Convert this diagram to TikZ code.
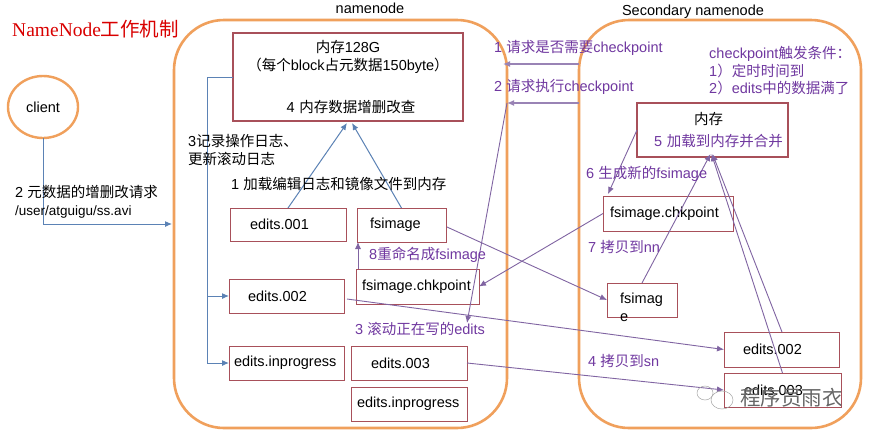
\documentclass[tikz,border=0pt]{standalone}
\usepackage{fontspec}
\setmainfont{Liberation Sans}
\newfontfamily\cjk{Noto Sans CJK SC}
\newfontfamily\serifl{Liberation Serif}
\newcommand{\zh}[1]{{\cjk #1}}
\usetikzlibrary{arrows.meta,calc,shapes.geometric}
\definecolor{orangeline}{HTML}{F0A05C}
\definecolor{boxred}{HTML}{A8505A}
\definecolor{bluel}{HTML}{5B82B5}
\definecolor{purpl}{HTML}{8064A2}
\definecolor{purpt}{HTML}{7038A0}
\tikzset{
 container/.style={draw=orangeline,line width=2.6pt,rounded corners=50pt,anchor=north west,inner sep=0pt,outer sep=0pt},
 bigbox/.style={draw=boxred,line width=2pt,anchor=north west,inner sep=0pt,outer sep=0pt,align=left},
 smallbox/.style={draw=boxred,line width=1pt,anchor=north west,inner sep=0pt,outer sep=0pt,align=left},
 txt/.style={anchor=west,inner sep=0pt,align=left,font=\fontsize{14.5}{17.5}\selectfont},
 ptxt/.style={txt,text=purpt},
 bluearrow/.style={draw=bluel,line width=1pt,-{Latex[length=7pt,width=6pt]}},
 blueline/.style={draw=bluel,line width=1pt},
 purplearrow/.style={draw=purpl,line width=.9pt,-{Latex[length=7pt,width=6pt]}},
 purplethick/.style={draw=purpl!80,line width=1.8pt,-{Latex[length=7pt,width=6pt]}},
}
\newcommand{\bx}[7]{\node[#1,minimum width=#4pt,text width=#4pt,minimum height=#5pt,font=\fontsize{14.5}{17.5}\selectfont] (#2) at (#3) {#6#7};}
\begin{document}
\begin{tikzpicture}[x=1pt,y=-1pt]
\useasboundingbox (0,0) rectangle (872,437);
\fill[white] (0,0) rectangle (872,437);
% titles
\node[anchor=center,inner sep=0pt,font=\fontsize{14.5}{15}\selectfont] (nnt) at (370,8.5) {namenode};
\fill[white] (330,13) rectangle (412,19);
\node[anchor=center,inner sep=0pt,font=\fontsize{14.5}{15}\selectfont] (snt) at (693,12) {Secondary namenode};
\node[anchor=west,inner sep=0pt,text=red!85!black,font=\fontsize{19.5}{22}\selectfont] (title) at (12,29) {\serifl NameNode\zh{工作机制}};
% containers
\node[container,minimum width=333pt,minimum height=408pt] (nn) at (174,20) {};
\node[container,minimum width=282pt,minimum height=408pt] (sn) at (579,20) {};
% client
\node[draw=orangeline,line width=2.4pt,ellipse,minimum width=70pt,minimum height=62pt,inner sep=0pt,outer sep=0pt,font=\fontsize{14.5}{17}\selectfont] (client) at (43,107) {client};
\coordinate (inport) at (172,224);
\coordinate (cornerc) at (client.south |- inport);
% boxes in namenode
\node[bigbox,minimum width=230pt,text width=230pt,minimum height=88pt,align=center,font=\fontsize{14.5}{18}\selectfont] (mem) at (233,33) {\zh{内存}128G\\\zh{（每个}block\zh{占元数据}150byte\zh{）}\\[24pt]\hspace*{6pt}4 \zh{内存数据增删改查}};
\bx{smallbox}{ea}{230,208}{116}{33}{\hspace*{20pt}}{edits.001}
\bx{smallbox}{fi}{357,208}{89}{34}{\hspace*{13pt}}{fsimage}
\bx{smallbox}{fc}{356,269}{123}{35}{\hspace*{6pt}}{fsimage.chkpoint}
\bx{smallbox}{eb}{229,279}{115}{34}{\hspace*{19pt}}{edits.002}
\bx{smallbox}{ei}{229,346}{115}{34}{\hspace*{5pt}}{edits.inprogress}
\bx{smallbox}{ec}{351,346}{116}{34}{\hspace*{20pt}}{edits.003}
\bx{smallbox}{ej}{351,387}{116}{34}{\hspace*{6pt}}{edits.inprogress}
% boxes in secondary
\node[bigbox,minimum width=151pt,text width=151pt,minimum height=54pt,font=\fontsize{14.5}{22}\selectfont] (mem2) at (637,103) {\hspace*{57pt}\zh{内存}\\\hspace*{17pt}\textcolor{purpt}{5 \zh{加载到内存并合并}}};
\bx{smallbox}{sc}{603,196}{130}{35}{\hspace*{7pt}}{fsimage.chkpoint}
\node[smallbox,minimum width=70pt,minimum height=34pt] (sf) at (607,283) {};
\bx{smallbox}{sb}{724,332}{115}{35}{\hspace*{19pt}}{edits.002}
\bx{smallbox}{sd}{724,373}{117}{34}{\hspace*{20pt}}{edits.003}
\node[txt] (sftext) at (620,307.5) {fsimag\\e};
% blue connectors
\draw[bluearrow] (client.south) -- (cornerc) -- (inport);
\coordinate (busTop) at (207,77);
\coordinate (busMid) at (busTop |- eb.west);
\coordinate (busBot) at (busTop |- ei.west);
\draw[blueline] (mem.west |- busTop) -- (busTop) -- (busBot);
\draw[bluearrow] (busMid) -- (eb.west);
\draw[bluearrow] (busBot) -- (ei.west);
\draw[bluearrow] (ea.north) -- ([xshift=-1pt,yshift=-2pt]mem.south);
\draw[bluearrow] (fi.north) -- ([xshift=4pt,yshift=-2pt]mem.south);
% purple connectors
\coordinate (ck1) at (503,64);
\coordinate (ck2) at (507,103);
\coordinate (roll) at (467,323);
\coordinate (rn) at (358,255);
\coordinate (cg) at (608,194);
\coordinate (fo) at (447,227);
\coordinate (ebo) at (347,299);
\coordinate (sbt) at (782,332);
\draw[purplethick] (sn.west |- ck1) -- (ck1);
\draw[purplethick] (sn.west |- ck2) -- (ck2);
\draw[purplearrow] (ck2) -- (roll);
\draw[purplearrow] (fc.north -| rn) -- (fi.south -| rn);
\draw[purplearrow] (mem2.west) -- (cg);
\draw[purplearrow] (sc.west) -- (fc.east);
\draw[purplearrow] (fo) -- (sf.west);
\draw[purplearrow] (ebo) -- (sb.west);
\draw[purplearrow] (ec.east) -- (sd.west);
\draw[purplearrow] (sf.north) -- ([xshift=-2pt,yshift=3pt]mem2.south);
\draw[purplearrow] (sbt) -- ([xshift=0pt,yshift=3pt]mem2.south);
\draw[purplearrow] (sd.north) -- ([xshift=-1pt,yshift=3pt]mem2.south);
% black labels
\node[txt] (l2) at (15,202) {2 \zh{元数据的增删改请求}\\{\fontsize{13.5}{17.5}\selectfont /user/atguigu/ss.avi}};
\node[txt] (l3) at (188,150) {3\zh{记录操作日志、}\\\zh{更新滚动日志}};
\node[txt] (l1) at (231,184) {1 \zh{加载编辑日志和镜像文件到内存}};
% purple labels
\node[ptxt] (p1) at (494,48) {1 \zh{请求是否需要}checkpoint};
\node[ptxt] (p2) at (494,87) {2 \zh{请求执行}checkpoint};
\node[ptxt] (pc) at (709,71) {checkpoint\zh{触发条件：}\\1\zh{）定时时间到}\\2\zh{）}edits\zh{中的数据满了}};
\node[ptxt] (p6) at (586,174) {6 \zh{生成新的}fsimage};
\node[ptxt] (p7) at (588,247) {7 \zh{拷贝到}nn};
\node[ptxt] (p8) at (369,255) {8\zh{重命名成}fsimage};
\node[ptxt] (p3) at (355,329) {3 \zh{滚动正在写的}edits};
\node[ptxt] (p4) at (588,361) {4 \zh{拷贝到}sn};
% watermark
\draw[gray!70,line width=.5pt] (705,393) ellipse (8pt and 7pt);
\draw[gray!70,line width=.5pt] (722,400) ellipse (11pt and 9pt);
\node[anchor=west,inner sep=0pt,text=gray!80!black,font=\fontsize{20.5}{22}\selectfont] (wm) at (740,398) {\zh{程序员雨衣}};
\end{tikzpicture}
\end{document}
